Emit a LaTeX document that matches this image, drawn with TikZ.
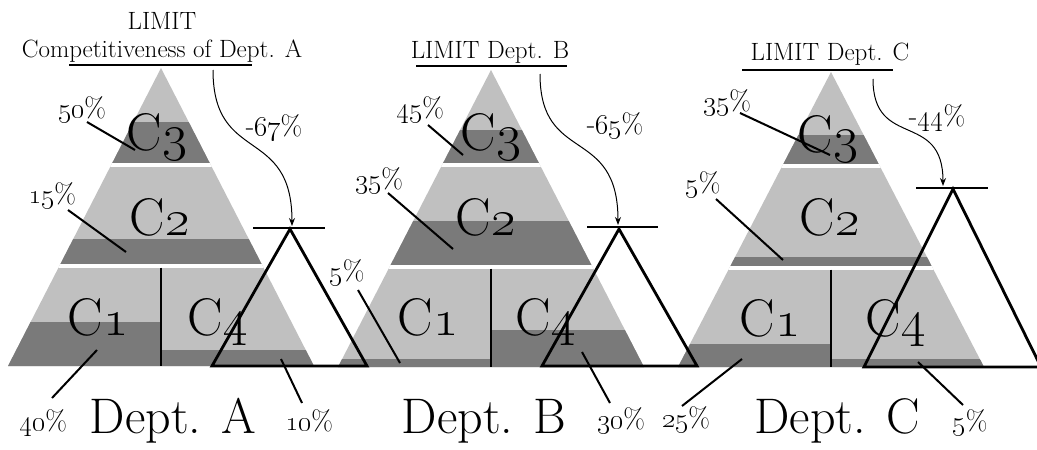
\documentclass[tikz,border=0pt]{standalone}
\usepackage{fix-cm}
\usetikzlibrary{arrows.meta}
\definecolor{lightg}{HTML}{C0C0C0}
\definecolor{darkg}{HTML}{7A7A7A}
\newcommand\osn[1]{\oldstylenums{#1}}
\tikzset{
  lbl/.style={inner sep=0pt, anchor=base, font=\fontsize{28}{32}\selectfont},
  clbl/.style={inner sep=0pt, anchor=base, font=\fontsize{53}{60}\selectfont},
  dept/.style={inner sep=0pt, anchor=base, font=\fontsize{50}{56}\selectfont},
  ttl/.style={inner sep=0pt, font=\fontsize{25}{28}\selectfont, align=center},
  leader/.style={line width=2pt},
  uline/.style={line width=2.8pt},
  outl/.style={line width=2.8pt, line join=miter},
  barline/.style={line width=2.4pt},
  curvearrow/.style={line width=1pt, -{Stealth[length=8pt,width=6pt]}},
  divider/.style={line width=1.8pt},
}
% #1 cx, #2 apex y, #3 C3 bottom, #4 C2 bottom, #5 base, #6 dark3, #7 dark2, #8 dark1, #9 dark4
\newcommand\pyrdraw[9]{%
  \begin{scope}
    \clip (#1,#2) -- (#1-153,#5) -- (#1+153,#5) -- cycle;
    \fill[lightg] (#1-160,#2-1) rectangle (#1+160,#5+1);
    \fill[darkg] (#1-160,#6) rectangle (#1+160,#3);
    \fill[darkg] (#1-160,#7) rectangle (#1+160,#4);
    \fill[darkg] (#1-160,#8) rectangle (#1,#5+1);
    \fill[darkg] (#1,#9) rectangle (#1+160,#5+1);
    \fill[white] (#1-160,#3) rectangle (#1+160,#3+3.5);
    \fill[white] (#1-160,#4) rectangle (#1+160,#4+3.5);
  \end{scope}
  \draw[divider] (#1,#4+3.5) -- (#1,#5);
}
\begin{document}
\begin{tikzpicture}[x=1pt,y=-1pt]
\useasboundingbox (0,0) rectangle (1037,450);

% pyramids
\pyrdraw{161}{68}{163}{264}{366}{122}{239}{322}{350}
\pyrdraw{491}{70}{163}{265}{367}{130}{221}{359}{330}
\pyrdraw{831}{72}{164}{266}{367}{135}{257}{344}{359}

% ---------- Dept. A ----------
\node[ttl] (ta) at (162,37) {LIMIT\\Competitiveness of Dept. A};
\coordinate (uaL) at (69,65); \coordinate (uaR) at (252,65);
\draw[uline] (uaL) -- (uaR);
\node[clbl] (a3) at (157,150) {C\osn{3}};
\node[clbl] (a2) at (160,235) {C\osn{2}};
\node[clbl] (a1) at (98,335) {C\osn{1}};
\node[clbl] (a4) at (218,335) {C\osn{4}};
\node[dept] (da) at (173,433) {Dept. A};
\node[lbl] (pa3) at (82,117) {\osn{50}\%};
\node[lbl] (pa2) at (52,203) {\osn{15}\%};
\node[lbl] (pa1) at (43,430) {\osn{40}\%};
\node[lbl] (pa4) at (309,430) {\osn{10}\%};
\node[lbl] (pad) at (274,135) {-\osn{67}\%};
\coordinate (la3s) at (87,122); \coordinate (la3e) at (135,150);
\coordinate (la2s) at (68,210); \coordinate (la2e) at (126,252);
\coordinate (la1s) at (52,398); \coordinate (la1e) at (97,350);
\coordinate (la4s) at (302,403); \coordinate (la4e) at (281,359);
\draw[leader] (la3s) -- (la3e);
\draw[leader] (la2s) -- (la2e);
\draw[leader] (la1s) -- (la1e);
\draw[leader] (la4s) -- (la4e);
\coordinate (taA) at (290,229); \coordinate (taL) at (212,366); \coordinate (taR) at (367,366);
\draw[outl] (taA) -- (taL) -- (taR) -- cycle;
\coordinate (baL) at (253,228); \coordinate (baR) at (325,228);
\draw[barline] (baL) -- (baR);
\coordinate (arAs) at (213,70); \coordinate (arAe) at (292,226);
\draw[curvearrow] (arAs) .. controls (213,165) and (292,125) .. (arAe);

% ---------- Dept. B ----------
\node[ttl] (tb) at (490,52) {LIMIT Dept. B};
\coordinate (ubL) at (416,66); \coordinate (ubR) at (567,66);
\draw[uline] (ubL) -- (ubR);
\node[clbl] (b3) at (491,150) {C\osn{3}};
\node[clbl] (b2) at (486,235) {C\osn{2}};
\node[clbl] (b1) at (428,335) {C\osn{1}};
\node[clbl] (b4) at (546,335) {C\osn{4}};
\node[dept] (db) at (484,433) {Dept. B};
\node[lbl] (pb3) at (420,117) {\osn{45}\%};
\node[lbl] (pb2) at (379,188) {\osn{35}\%};
\node[lbl] (pb1) at (347,280) {\osn{5}\%};
\node[lbl] (pb4) at (621,428) {\osn{30}\%};
\node[lbl] (pbd) at (615,133) {-\osn{65}\%};
\coordinate (lb3s) at (428,125); \coordinate (lb3e) at (463,155);
\coordinate (lb2s) at (388,193); \coordinate (lb2e) at (453,249);
\coordinate (lb1s) at (358,290); \coordinate (lb1e) at (400,363);
\coordinate (lb4s) at (610,403); \coordinate (lb4e) at (582,352);
\draw[leader] (lb3s) -- (lb3e);
\draw[leader] (lb2s) -- (lb2e);
\draw[leader] (lb1s) -- (lb1e);
\draw[leader] (lb4s) -- (lb4e);
\coordinate (tbA) at (619,229); \coordinate (tbL) at (542,366); \coordinate (tbR) at (697,366);
\draw[outl] (tbA) -- (tbL) -- (tbR) -- cycle;
\coordinate (bbL) at (587,227); \coordinate (bbR) at (658,227);
\draw[barline] (bbL) -- (bbR);
\coordinate (arBs) at (540,74); \coordinate (arBe) at (618,225);
\draw[curvearrow] (arBs) .. controls (540,165) and (618,125) .. (arBe);

% ---------- Dept. C ----------
\node[ttl] (tc) at (830,54) {LIMIT Dept. C};
\coordinate (ucL) at (742,70); \coordinate (ucR) at (893,70);
\draw[uline] (ucL) -- (ucR);
\node[clbl] (c3) at (828,152) {C\osn{3}};
\node[clbl] (c2) at (830,235) {C\osn{2}};
\node[clbl] (c1) at (770,336) {C\osn{1}};
\node[clbl] (c4) at (896,336) {C\osn{4}};
\node[dept] (dc) at (837,433) {Dept. C};
\node[lbl] (pc3) at (727,110) {\osn{35}\%};
\node[lbl] (pc2) at (703,192) {\osn{5}\%};
\node[lbl] (pc1) at (686,427) {\osn{25}\%};
\node[lbl] (pc4) at (970,430) {\osn{5}\%};
\node[lbl] (pcd) at (937,125) {-\osn{44}\%};
\coordinate (lc3s) at (740,113); \coordinate (lc3e) at (830,155);
\coordinate (lc2s) at (716,199); \coordinate (lc2e) at (783,260);
\coordinate (lc1s) at (682,406); \coordinate (lc1e) at (742,359);
\coordinate (lc4s) at (963,405); \coordinate (lc4e) at (918,362);
\draw[leader] (lc3s) -- (lc3e);
\draw[leader] (lc2s) -- (lc2e);
\draw[leader] (lc1s) -- (lc1e);
\draw[leader] (lc4s) -- (lc4e);
\coordinate (tcA) at (953,189); \coordinate (tcL) at (864,367); \coordinate (tcR) at (1041,367);
\draw[outl] (tcA) -- (tcL) -- (tcR) -- cycle;
\coordinate (bcL) at (916,188); \coordinate (bcR) at (988,188);
\draw[barline] (bcL) -- (bcR);
\coordinate (arCs) at (873,79); \coordinate (arCe) at (943,186);
\draw[curvearrow] (arCs) .. controls (873,150) and (943,110) .. (arCe);
\end{tikzpicture}
\end{document}
